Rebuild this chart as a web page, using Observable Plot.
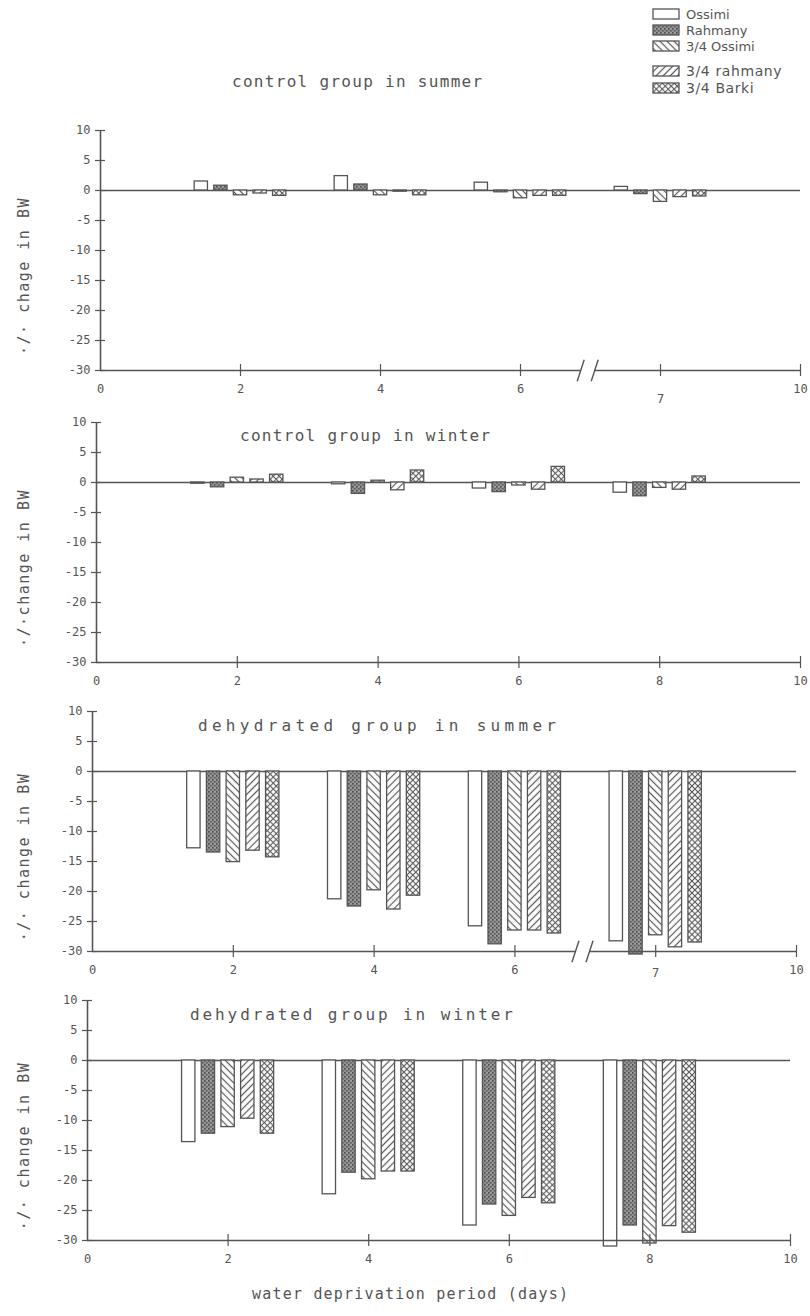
<!DOCTYPE html>
<html>
<head>
<meta charset="utf-8">
<title>Change in body weight during water deprivation</title>
<script src="https://cdn.jsdelivr.net/npm/d3@7"></script>
<script src="https://cdn.jsdelivr.net/npm/@observablehq/plot@0.6"></script>
<style>
  html, body { margin: 0; padding: 0; background: #ffffff; }
  #page { position: relative; width: 810px; height: 1316px; overflow: hidden;
          font-family: "DejaVu Sans Mono", "Liberation Mono", monospace; color: #555; }
  .abs { position: absolute; white-space: nowrap; line-height: 1; }
  .panel { position: absolute; left: 0; }
  .ylab { position: absolute; white-space: nowrap; font-size: 15px; letter-spacing: 1.5px; line-height: 1;
          transform: translate(-50%, -50%) rotate(-90deg); }
</style>
</head>
<body>
<div id="page"></div>
<script>
// Breeds, in legend and bar order
const breeds = ["Ossimi", "Rahmany", "3/4 Ossimi", "3/4 rahmany", "3/4 Barki"];
// Positions of the four sampling groups along the day axis
const groupDays = [2, 4, 6, 8];

// % change in body weight: one row per group, one value per breed
const controlSummer = [
  [1.5, 0.8, -0.8, -0.5, -0.9],
  [2.4, 1.0, -0.8, -0.2, -0.8],
  [1.3, -0.3, -1.3, -0.9, -0.9],
  [0.6, -0.6, -1.9, -1.1, -1.0]
];
const controlWinter = [
  [-0.2, -0.8, 0.8, 0.5, 1.3],
  [-0.3, -1.9, 0.3, -1.3, 2.0],
  [-1.0, -1.6, -0.5, -1.2, 2.6],
  [-1.7, -2.3, -0.9, -1.2, 1.0]
];
const dehydratedSummer = [
  [-12.8, -13.5, -15.1, -13.2, -14.3],
  [-21.3, -22.5, -19.8, -23.0, -20.7],
  [-25.8, -28.8, -26.5, -26.5, -27.0],
  [-28.3, -30.5, -27.3, -29.3, -28.5]
];
const dehydratedWinter = [
  [-13.6, -12.2, -11.1, -9.7, -12.2],
  [-22.3, -18.7, -19.8, -18.5, -18.5],
  [-27.5, -24.0, -25.9, -22.9, -23.8],
  [-31.0, -27.5, -30.5, -27.6, -28.7]
];

// Axis ticks and printed labels
const yTicks = [10, 5, 0, -5, -10, -15, -20, -25, -30];
const xTicks = [0, 2, 4, 6, 8, 10];
const xLabelsBroken = ["0", "2", "4", "6", "7", "10"];
const xLabelsPlain = ["0", "2", "4", "6", "8", "10"];

const ink = "#555555";
const page = document.getElementById("page");

// ---- fill patterns shared by the bars and the legend ----
const defsSvg = d3.select(page).append("svg")
  .attr("width", 0).attr("height", 0).style("position", "absolute");
const defs = defsSvg.append("defs");

const stipple = defs.append("pattern").attr("id", "fill-rahmany")
  .attr("patternUnits", "userSpaceOnUse").attr("width", 4).attr("height", 4);
stipple.append("rect").attr("width", 4).attr("height", 4).attr("fill", "#8e8e8e");
stipple.append("rect").attr("x", 0).attr("y", 0).attr("width", 1.6).attr("height", 1.6).attr("fill", "#4d4d4d");
stipple.append("rect").attr("x", 2).attr("y", 2).attr("width", 1.6).attr("height", 1.6).attr("fill", "#5e5e5e");
stipple.append("rect").attr("x", 2.4).attr("y", 0.2).attr("width", 1).attr("height", 1).attr("fill", "#bdbdbd");

function hatch(id, angle, gap, lineW, cross) {
  const p = defs.append("pattern").attr("id", id)
    .attr("patternUnits", "userSpaceOnUse").attr("width", gap).attr("height", gap)
    .attr("patternTransform", `rotate(${angle})`);
  p.append("rect").attr("width", gap).attr("height", gap).attr("fill", "#ffffff");
  p.append("line").attr("x1", gap / 2).attr("y1", 0).attr("x2", gap / 2).attr("y2", gap)
    .attr("stroke", "#5a5a5a").attr("stroke-width", lineW);
  if (cross) p.append("line").attr("x1", 0).attr("y1", gap / 2).attr("x2", gap).attr("y2", gap / 2)
    .attr("stroke", "#5a5a5a").attr("stroke-width", lineW);
}
hatch("fill-ossimi34", -45, 5, 1.2, false);
hatch("fill-rahmany34", 45, 5, 1.2, false);
hatch("fill-barki34", 45, 4.2, 1.1, true);

const breedFills = ["#ffffff", "url(#fill-rahmany)", "url(#fill-ossimi34)", "url(#fill-rahmany34)", "url(#fill-barki34)"];

// ---- legend (top right) ----
const legendRows = [
  {breed: breeds[0], y: 14, size: 13},
  {breed: breeds[1], y: 30, size: 13},
  {breed: breeds[2], y: 46, size: 13},
  {breed: breeds[3], y: 71, size: 14},
  {breed: breeds[4], y: 88, size: 14}
];
const legend = d3.select(page).append("svg")
  .attr("class", "abs").style("left", "0px").style("top", "0px")
  .attr("width", 810).attr("height", 110);
legendRows.forEach(r => {
  legend.append("rect").attr("x", 653).attr("y", r.y - 5).attr("width", 26).attr("height", 10)
    .attr("fill", breedFills[breeds.indexOf(r.breed)]).attr("stroke", ink).attr("stroke-width", 1.3);
  legend.append("text").attr("x", 686).attr("y", r.y).attr("dy", "0.35em")
    .attr("font-family", "DejaVu Sans, sans-serif").attr("font-size", r.size)
    .attr("letter-spacing", r.size > 13 ? 0.6 : 0).attr("fill", "#555")
    .text(r.breed);
});

// ---- panels ----
const panels = [
  {values: controlSummer, title: "control group in summer", ylabel: "·/· chage in BW",
   labels: xLabelsBroken, broken: true, lowerPad: 24, top: 110, left: 100, right: 10,
   titleX: 232, titleY: 74, titleSpacing: 1.3},
  {values: controlWinter, title: "control group in winter", ylabel: "·/·change in BW",
   labels: xLabelsPlain, broken: false, lowerPad: 14, top: 402, left: 96, right: 10,
   titleX: 240, titleY: 428, titleSpacing: 1.3},
  {values: dehydratedSummer, title: "dehydrated group in summer", ylabel: "·/· change in BW",
   labels: xLabelsBroken, broken: true, lowerPad: 17, top: 691, left: 92, right: 14,
   titleX: 198, titleY: 718, titleSpacing: 4.3},
  {values: dehydratedWinter, title: "dehydrated group in winter", ylabel: "·/· change in BW",
   labels: xLabelsPlain, broken: false, lowerPad: 14, top: 980, left: 87, right: 20,
   titleX: 190, titleY: 1007, titleSpacing: 2.9}
];

const W = 810, MT = 20, PH = 240, MB = 40;
const barStep = 0.28, barHalf = 0.095;

panels.forEach(p => {
  const plotW = W - p.left - p.right;
  const table = p.values.flatMap((row, g) =>
    row.map((value, k) => ({day: groupDays[g], k, breed: breeds[k], value})));
  const labelOf = new Map(xTicks.map((t, i) => [t, p.labels[i]]));
  const segments = p.broken ? [[0, 6.86], [7.06, 10]] : [[0, 10]];
  const breaks = p.broken ? [6.86, 7.06] : [];
  const lowered = p.broken ? [8] : [];
  const normal = xTicks.filter(t => !lowered.includes(t));

  const chart = Plot.plot({
    width: W, height: MT + PH + MB,
    marginTop: MT, marginBottom: MB, marginLeft: p.left, marginRight: p.right,
    x: {domain: [0, 10], axis: null},
    y: {domain: [-30, 10], axis: null},
    color: {domain: breeds, range: breedFills},
    style: {fontFamily: "DejaVu Sans Mono, monospace", fontSize: "12px", color: ink,
            background: "transparent", overflow: "visible"},
    marks: [
      Plot.ruleY([0], {stroke: ink, strokeWidth: 1.6}),
      Plot.rectY(table, {
        x1: d => d.day + (d.k - 2) * barStep - barHalf,
        x2: d => d.day + (d.k - 2) * barStep + barHalf,
        y1: 0, y2: "value", fill: "breed", stroke: ink, strokeWidth: 1.3
      }),
      Plot.ruleX([0], {stroke: ink, strokeWidth: 1.6}),
      Plot.ruleY(yTicks, {stroke: ink, strokeWidth: 1.2, insetLeft: -5, insetRight: plotW - 5}),
      Plot.axisY({ticks: yTicks, tickSize: 0, tickPadding: 10, tickFormat: d => String(d), label: null}),
      Plot.ruleY(segments, {y: -30, x1: d => d[0], x2: d => d[1], stroke: ink, strokeWidth: 1.6}),
      Plot.ruleX(xTicks.filter(t => t > 0), {stroke: ink, strokeWidth: 1.2, insetTop: PH - 6, insetBottom: -6}),
      Plot.link(breaks, {x1: d => d - 0.05, x2: d => d + 0.05, y1: -31.8, y2: -28.2, stroke: ink, strokeWidth: 1.4}),
      Plot.axisX({ticks: normal, tickSize: 0, tickPadding: 14, tickFormat: d => labelOf.get(d), label: null}),
      Plot.axisX({ticks: lowered, tickSize: 0, tickPadding: p.lowerPad, tickFormat: d => labelOf.get(d), label: null})
    ]
  });
  chart.classList.add("panel");
  chart.style.top = p.top + "px";
  page.appendChild(chart);

  const t = document.createElement("div");
  t.className = "abs";
  t.textContent = p.title;
  Object.assign(t.style, {left: p.titleX + "px", top: p.titleY + "px", fontSize: "16px",
                          letterSpacing: p.titleSpacing + "px", color: "#555"});
  page.appendChild(t);

  const yl = document.createElement("div");
  yl.className = "ylab";
  yl.textContent = p.ylabel;
  Object.assign(yl.style, {left: "24px", top: (p.top + MT + PH / 2 + 26) + "px"});
  page.appendChild(yl);
});

const xt = document.createElement("div");
xt.className = "abs";
xt.textContent = "water deprivation period (days)";
Object.assign(xt.style, {left: "252px", top: "1287px", fontSize: "15px", letterSpacing: "1.2px", color: "#555"});
page.appendChild(xt);
</script>
</body>
</html>
